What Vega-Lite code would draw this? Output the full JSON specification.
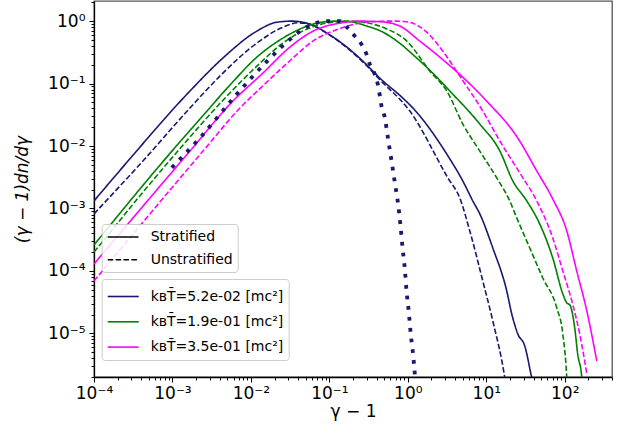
{
  "$schema": "https://vega.github.io/schema/vega-lite/v6.json",
  "width": 518,
  "height": 376,
  "autosize": "none",
  "padding": {"left": 94, "top": 1, "right": 16, "bottom": 56},
  "background": "white",
  "config": {
    "font": "DejaVu Sans",
    "view": {"stroke": "#555555", "strokeWidth": 1.3},
    "axis": {"labelFont": "DejaVu Sans", "titleFont": "DejaVu Sans", "labelColor": "black", "titleColor": "black", "domainColor": "black", "tickColor": "black", "grid": false, "titleFontWeight": "normal", "domainWidth": 1.3, "tickWidth": 1}
  },
  "data": {"values": [
    {"t": "5.2e-02", "k": "Stratified", "x": 1e-4, "y": 1.32e-3},
    {"t": "5.2e-02", "k": "Stratified", "x": 2.63e-4, "y": 5.5e-3},
    {"t": "5.2e-02", "k": "Stratified", "x": 1.67e-3, "y": 0.0759},
    {"t": "5.2e-02", "k": "Stratified", "x": 4.39e-3, "y": 0.256},
    {"t": "5.2e-02", "k": "Stratified", "x": 0.0119, "y": 0.692},
    {"t": "5.2e-02", "k": "Stratified", "x": 0.0214, "y": 0.96},
    {"t": "5.2e-02", "k": "Stratified", "x": 0.0333, "y": 1.0},
    {"t": "5.2e-02", "k": "Stratified", "x": 0.0565, "y": 0.895},
    {"t": "5.2e-02", "k": "Stratified", "x": 0.0929, "y": 0.643},
    {"t": "5.2e-02", "k": "Stratified", "x": 0.149, "y": 0.429},
    {"t": "5.2e-02", "k": "Stratified", "x": 0.267, "y": 0.229},
    {"t": "5.2e-02", "k": "Stratified", "x": 0.44, "y": 0.122},
    {"t": "5.2e-02", "k": "Stratified", "x": 0.863, "y": 0.0586},
    {"t": "5.2e-02", "k": "Stratified", "x": 1.16, "y": 0.0406},
    {"t": "5.2e-02", "k": "Stratified", "x": 3.14, "y": 7.4e-3},
    {"t": "5.2e-02", "k": "Stratified", "x": 5.02, "y": 2.75e-3},
    {"t": "5.2e-02", "k": "Stratified", "x": 6.73, "y": 1.32e-3},
    {"t": "5.2e-02", "k": "Stratified", "x": 8.26, "y": 8.2e-4},
    {"t": "5.2e-02", "k": "Stratified", "x": 12.1, "y": 2.33e-4},
    {"t": "5.2e-02", "k": "Stratified", "x": 18.2, "y": 4.8e-5},
    {"t": "5.2e-02", "k": "Stratified", "x": 21.1, "y": 2.05e-5},
    {"t": "5.2e-02", "k": "Stratified", "x": 25.2, "y": 9.8e-6},
    {"t": "5.2e-02", "k": "Stratified", "x": 30.9, "y": 6.3e-6},
    {"t": "5.2e-02", "k": "Stratified", "x": 38.0, "y": 1.94e-6},
    {"t": "5.2e-02", "k": "Stratified", "x": 41.7, "y": 1.2e-6},

    {"t": "5.2e-02", "k": "Unstratified", "x": 1e-4, "y": 8.2e-4},
    {"t": "5.2e-02", "k": "Unstratified", "x": 4.2e-4, "y": 5.75e-3},
    {"t": "5.2e-02", "k": "Unstratified", "x": 1.67e-3, "y": 0.0406},
    {"t": "5.2e-02", "k": "Unstratified", "x": 4.39e-3, "y": 0.147},
    {"t": "5.2e-02", "k": "Unstratified", "x": 0.0119, "y": 0.445},
    {"t": "5.2e-02", "k": "Unstratified", "x": 0.0256, "y": 0.8},
    {"t": "5.2e-02", "k": "Unstratified", "x": 0.04, "y": 0.94},
    {"t": "5.2e-02", "k": "Unstratified", "x": 0.055, "y": 0.9},
    {"t": "5.2e-02", "k": "Unstratified", "x": 0.0929, "y": 0.64},
    {"t": "5.2e-02", "k": "Unstratified", "x": 0.149, "y": 0.42},
    {"t": "5.2e-02", "k": "Unstratified", "x": 0.267, "y": 0.222},
    {"t": "5.2e-02", "k": "Unstratified", "x": 0.44, "y": 0.115},
    {"t": "5.2e-02", "k": "Unstratified", "x": 1.06, "y": 0.0363},
    {"t": "5.2e-02", "k": "Unstratified", "x": 3.24, "y": 3.08e-3},
    {"t": "5.2e-02", "k": "Unstratified", "x": 4.59, "y": 1.47e-3},
    {"t": "5.2e-02", "k": "Unstratified", "x": 6.16, "y": 4.37e-4},
    {"t": "5.2e-02", "k": "Unstratified", "x": 9.02, "y": 6.9e-5},
    {"t": "5.2e-02", "k": "Unstratified", "x": 12.1, "y": 1.58e-5},
    {"t": "5.2e-02", "k": "Unstratified", "x": 17.2, "y": 1.94e-6},
    {"t": "5.2e-02", "k": "Unstratified", "x": 18.2, "y": 1.2e-6},

    {"t": "5.2e-02", "k": "MJ", "x": 9.8e-4, "y": 4.5e-3},
    {"t": "5.2e-02", "k": "MJ", "x": 2.36e-3, "y": 0.0145},
    {"t": "5.2e-02", "k": "MJ", "x": 6.58e-3, "y": 0.0672},
    {"t": "5.2e-02", "k": "MJ", "x": 0.0158, "y": 0.223},
    {"t": "5.2e-02", "k": "MJ", "x": 0.0314, "y": 0.51},
    {"t": "5.2e-02", "k": "MJ", "x": 0.0537, "y": 0.832},
    {"t": "5.2e-02", "k": "MJ", "x": 0.0966, "y": 1.0},
    {"t": "5.2e-02", "k": "MJ", "x": 0.136, "y": 1.0},
    {"t": "5.2e-02", "k": "MJ", "x": 0.167, "y": 0.8},
    {"t": "5.2e-02", "k": "MJ", "x": 0.211, "y": 0.575},
    {"t": "5.2e-02", "k": "MJ", "x": 0.257, "y": 0.424},
    {"t": "5.2e-02", "k": "MJ", "x": 0.298, "y": 0.293},
    {"t": "5.2e-02", "k": "MJ", "x": 0.328, "y": 0.203},
    {"t": "5.2e-02", "k": "MJ", "x": 0.38, "y": 0.14},
    {"t": "5.2e-02", "k": "MJ", "x": 0.419, "y": 0.0912},
    {"t": "5.2e-02", "k": "MJ", "x": 0.462, "y": 0.0437},
    {"t": "5.2e-02", "k": "MJ", "x": 0.509, "y": 0.0284},
    {"t": "5.2e-02", "k": "MJ", "x": 0.561, "y": 0.0128},
    {"t": "5.2e-02", "k": "MJ", "x": 0.62, "y": 5.75e-3},
    {"t": "5.2e-02", "k": "MJ", "x": 0.683, "y": 2.59e-3},
    {"t": "5.2e-02", "k": "MJ", "x": 0.752, "y": 1.17e-3},
    {"t": "5.2e-02", "k": "MJ", "x": 0.807, "y": 5.25e-4},
    {"t": "5.2e-02", "k": "MJ", "x": 0.855, "y": 2.36e-4},
    {"t": "5.2e-02", "k": "MJ", "x": 0.916, "y": 1.06e-4},
    {"t": "5.2e-02", "k": "MJ", "x": 0.962, "y": 4.8e-5},
    {"t": "5.2e-02", "k": "MJ", "x": 1.03, "y": 2.15e-5},
    {"t": "5.2e-02", "k": "MJ", "x": 1.09, "y": 9.7e-6},
    {"t": "5.2e-02", "k": "MJ", "x": 1.17, "y": 4.4e-6},
    {"t": "5.2e-02", "k": "MJ", "x": 1.23, "y": 2.1e-6},
    {"t": "5.2e-02", "k": "MJ", "x": 1.26, "y": 1.2e-6},

    {"t": "1.9e-01", "k": "Stratified", "x": 1e-4, "y": 2.6e-4},
    {"t": "1.9e-01", "k": "Stratified", "x": 1.01e-3, "y": 8.6e-3},
    {"t": "1.9e-01", "k": "Stratified", "x": 2.24e-3, "y": 0.027},
    {"t": "1.9e-01", "k": "Stratified", "x": 5.4e-3, "y": 0.0946},
    {"t": "1.9e-01", "k": "Stratified", "x": 0.0119, "y": 0.265},
    {"t": "1.9e-01", "k": "Stratified", "x": 0.0256, "y": 0.535},
    {"t": "1.9e-01", "k": "Stratified", "x": 0.042, "y": 0.745},
    {"t": "1.9e-01", "k": "Stratified", "x": 0.0694, "y": 0.93},
    {"t": "1.9e-01", "k": "Stratified", "x": 0.1175, "y": 1.0},
    {"t": "1.9e-01", "k": "Stratified", "x": 0.182, "y": 0.98},
    {"t": "1.9e-01", "k": "Stratified", "x": 0.301, "y": 0.832},
    {"t": "1.9e-01", "k": "Stratified", "x": 0.481, "y": 0.667},
    {"t": "1.9e-01", "k": "Stratified", "x": 0.725, "y": 0.479},
    {"t": "1.9e-01", "k": "Stratified", "x": 1.3, "y": 0.256},
    {"t": "1.9e-01", "k": "Stratified", "x": 2.08, "y": 0.147},
    {"t": "1.9e-01", "k": "Stratified", "x": 3.43, "y": 0.0759},
    {"t": "1.9e-01", "k": "Stratified", "x": 8.26, "y": 0.0225},
    {"t": "1.9e-01", "k": "Stratified", "x": 14.9, "y": 8.3e-3},
    {"t": "1.9e-01", "k": "Stratified", "x": 21.8, "y": 2.75e-3},
    {"t": "1.9e-01", "k": "Stratified", "x": 32.8, "y": 1.32e-3},
    {"t": "1.9e-01", "k": "Stratified", "x": 48.1, "y": 5.6e-4},
    {"t": "1.9e-01", "k": "Stratified", "x": 70.3, "y": 1.61e-4},
    {"t": "1.9e-01", "k": "Stratified", "x": 94.4, "y": 4.3e-5},
    {"t": "1.9e-01", "k": "Stratified", "x": 106, "y": 3.08e-5},
    {"t": "1.9e-01", "k": "Stratified", "x": 116, "y": 2.86e-5},
    {"t": "1.9e-01", "k": "Stratified", "x": 134, "y": 1.22e-5},
    {"t": "1.9e-01", "k": "Stratified", "x": 146, "y": 4.7e-6},
    {"t": "1.9e-01", "k": "Stratified", "x": 165, "y": 1.94e-6},
    {"t": "1.9e-01", "k": "Stratified", "x": 170, "y": 1.2e-6},

    {"t": "1.9e-01", "k": "Unstratified", "x": 1e-4, "y": 2.0e-4},
    {"t": "1.9e-01", "k": "Unstratified", "x": 1.17e-3, "y": 8.3e-3},
    {"t": "1.9e-01", "k": "Unstratified", "x": 4.94e-3, "y": 0.063},
    {"t": "1.9e-01", "k": "Unstratified", "x": 0.0119, "y": 0.19},
    {"t": "1.9e-01", "k": "Unstratified", "x": 0.0256, "y": 0.445},
    {"t": "1.9e-01", "k": "Unstratified", "x": 0.0385, "y": 0.62},
    {"t": "1.9e-01", "k": "Unstratified", "x": 0.1, "y": 0.946},
    {"t": "1.9e-01", "k": "Unstratified", "x": 0.182, "y": 1.0},
    {"t": "1.9e-01", "k": "Unstratified", "x": 0.301, "y": 0.94},
    {"t": "1.9e-01", "k": "Unstratified", "x": 0.509, "y": 0.773},
    {"t": "1.9e-01", "k": "Unstratified", "x": 0.971, "y": 0.479},
    {"t": "1.9e-01", "k": "Unstratified", "x": 1.91, "y": 0.158},
    {"t": "1.9e-01", "k": "Unstratified", "x": 3.14, "y": 0.0759},
    {"t": "1.9e-01", "k": "Unstratified", "x": 5.02, "y": 0.0225},
    {"t": "1.9e-01", "k": "Unstratified", "x": 8.26, "y": 8.3e-3},
    {"t": "1.9e-01", "k": "Unstratified", "x": 13.6, "y": 3.08e-3},
    {"t": "1.9e-01", "k": "Unstratified", "x": 19.9, "y": 1.32e-3},
    {"t": "1.9e-01", "k": "Unstratified", "x": 24.5, "y": 7.0e-4},
    {"t": "1.9e-01", "k": "Unstratified", "x": 35.8, "y": 2.33e-4},
    {"t": "1.9e-01", "k": "Unstratified", "x": 52.5, "y": 7.7e-5},
    {"t": "1.9e-01", "k": "Unstratified", "x": 79.1, "y": 2.56e-5},
    {"t": "1.9e-01", "k": "Unstratified", "x": 94.4, "y": 9.8e-6},
    {"t": "1.9e-01", "k": "Unstratified", "x": 106, "y": 1.94e-6},
    {"t": "1.9e-01", "k": "Unstratified", "x": 108, "y": 1.2e-6},

    {"t": "3.5e-01", "k": "Stratified", "x": 1e-4, "y": 1.29e-4},
    {"t": "3.5e-01", "k": "Stratified", "x": 1.67e-3, "y": 8.3e-3},
    {"t": "3.5e-01", "k": "Stratified", "x": 5.9e-3, "y": 0.0525},
    {"t": "3.5e-01", "k": "Stratified", "x": 0.0142, "y": 0.147},
    {"t": "3.5e-01", "k": "Stratified", "x": 0.0314, "y": 0.384},
    {"t": "3.5e-01", "k": "Stratified", "x": 0.0617, "y": 0.69},
    {"t": "3.5e-01", "k": "Stratified", "x": 0.136, "y": 0.929},
    {"t": "3.5e-01", "k": "Stratified", "x": 0.245, "y": 1.0},
    {"t": "3.5e-01", "k": "Stratified", "x": 0.44, "y": 0.98},
    {"t": "3.5e-01", "k": "Stratified", "x": 0.791, "y": 0.832},
    {"t": "3.5e-01", "k": "Stratified", "x": 1.42, "y": 0.479},
    {"t": "3.5e-01", "k": "Stratified", "x": 3.14, "y": 0.213},
    {"t": "3.5e-01", "k": "Stratified", "x": 5.65, "y": 0.11},
    {"t": "3.5e-01", "k": "Stratified", "x": 10.1, "y": 0.0525},
    {"t": "3.5e-01", "k": "Stratified", "x": 25.2, "y": 0.0134},
    {"t": "3.5e-01", "k": "Stratified", "x": 44.0, "y": 3.98e-3},
    {"t": "3.5e-01", "k": "Stratified", "x": 70.3, "y": 1.42e-3},
    {"t": "3.5e-01", "k": "Stratified", "x": 106, "y": 4.37e-4},
    {"t": "3.5e-01", "k": "Stratified", "x": 142, "y": 1.0e-4},
    {"t": "3.5e-01", "k": "Stratified", "x": 191, "y": 2.29e-5},
    {"t": "3.5e-01", "k": "Stratified", "x": 256, "y": 3.6e-6},

    {"t": "3.5e-01", "k": "Unstratified", "x": 1e-4, "y": 6.9e-5},
    {"t": "3.5e-01", "k": "Unstratified", "x": 2.45e-3, "y": 8.3e-3},
    {"t": "3.5e-01", "k": "Unstratified", "x": 7.24e-3, "y": 0.0406},
    {"t": "3.5e-01", "k": "Unstratified", "x": 0.0142, "y": 0.092},
    {"t": "3.5e-01", "k": "Unstratified", "x": 0.0314, "y": 0.232},
    {"t": "3.5e-01", "k": "Unstratified", "x": 0.0617, "y": 0.479},
    {"t": "3.5e-01", "k": "Unstratified", "x": 0.136, "y": 0.76},
    {"t": "3.5e-01", "k": "Unstratified", "x": 0.267, "y": 0.946},
    {"t": "3.5e-01", "k": "Unstratified", "x": 0.42, "y": 0.99},
    {"t": "3.5e-01", "k": "Unstratified", "x": 0.65, "y": 1.0},
    {"t": "3.5e-01", "k": "Unstratified", "x": 0.9, "y": 0.985},
    {"t": "3.5e-01", "k": "Unstratified", "x": 1.12, "y": 0.94},
    {"t": "3.5e-01", "k": "Unstratified", "x": 1.35, "y": 0.84},
    {"t": "3.5e-01", "k": "Unstratified", "x": 1.75, "y": 0.66},
    {"t": "3.5e-01", "k": "Unstratified", "x": 2.79, "y": 0.331},
    {"t": "3.5e-01", "k": "Unstratified", "x": 4.59, "y": 0.132},
    {"t": "3.5e-01", "k": "Unstratified", "x": 9.02, "y": 0.0363},
    {"t": "3.5e-01", "k": "Unstratified", "x": 14.9, "y": 0.012},
    {"t": "3.5e-01", "k": "Unstratified", "x": 26.7, "y": 3.7e-3},
    {"t": "3.5e-01", "k": "Unstratified", "x": 44.0, "y": 1.32e-3},
    {"t": "3.5e-01", "k": "Unstratified", "x": 70.3, "y": 3.37e-4},
    {"t": "3.5e-01", "k": "Unstratified", "x": 94.4, "y": 1.0e-4},
    {"t": "3.5e-01", "k": "Unstratified", "x": 126, "y": 2.96e-5},
    {"t": "3.5e-01", "k": "Unstratified", "x": 155, "y": 9.8e-6},
    {"t": "3.5e-01", "k": "Unstratified", "x": 191, "y": 2.25e-6}
  ]},
  "layer": [
    {
      "transform": [{"filter": "datum.k != 'MJ'"}],
      "mark": {"type": "line", "clip": true, "strokeWidth": 1.6, "interpolate": "monotone"},
      "encoding": {
        "x": {"field": "x", "type": "quantitative", "scale": {"type": "log", "domain": [1e-4, 400], "nice": false},
          "axis": {"values": [1e-4, 1e-3, 1e-2, 1e-1, 1, 10, 100], "labelExpr": "'10' + (round(log(datum.value)/LN10) < 0 ? '⁻' : '') + ['⁰','¹','²','³','⁴','⁵','⁶'][abs(round(log(datum.value)/LN10))]", "title": "γ − 1", "titleFontSize": 17, "labelFontSize": 17, "tickSize": 5, "labelPadding": 3, "titlePadding": 2, "labelFlush": false, "labelOverlap": false}},
        "y": {"field": "y", "type": "quantitative", "scale": {"type": "log", "domain": [2e-6, 2.1], "nice": false},
          "axis": {"values": [1e-5, 1e-4, 1e-3, 1e-2, 1e-1, 1], "labelExpr": "'10' + (round(log(datum.value)/LN10) < 0 ? '⁻' : '') + ['⁰','¹','²','³','⁴','⁵','⁶'][abs(round(log(datum.value)/LN10))]", "title": "(γ − 1)dn/dγ", "titleFontSize": 17, "titleFontStyle": "italic", "labelFontSize": 17, "tickSize": 5, "labelPadding": 4, "titlePadding": 16, "labelOverlap": false}},
        "color": {"field": "t", "type": "nominal", "scale": {"domain": ["5.2e-02", "1.9e-01", "3.5e-01"], "range": ["#191970", "#008000", "#ff00ff"]},
          "legend": {"title": null, "orient": "none", "legendX": 7.7, "legendY": 278, "symbolType": "M-1,0H1.7", "symbolSize": 529, "symbolStrokeWidth": 1.6, "labelExpr": "'kʙT̄=' + datum.label + ' [mc²]'", "labelFontSize": 14, "labelFont": "DejaVu Sans", "labelColor": "black", "labelOffset": 19, "padding": 5, "rowPadding": 5.3, "fillColor": "rgba(255,255,255,0.85)", "strokeColor": "#cccccc", "cornerRadius": 3}},
        "strokeDash": {"field": "k", "type": "nominal", "scale": {"domain": ["Stratified", "Unstratified"], "range": [[1, 0], [5.5, 2.4]]},
          "legend": {"title": null, "orient": "none", "legendX": 7.7, "legendY": 223, "symbolType": "M-1,0H3.4", "symbolSize": 196, "symbolStrokeWidth": 1.6, "symbolStrokeColor": "black", "labelFontSize": 14, "labelFont": "DejaVu Sans", "labelColor": "black", "labelOffset": 28, "padding": 5, "rowPadding": 7.7, "fillColor": "rgba(255,255,255,0.85)", "strokeColor": "#cccccc", "cornerRadius": 3,
            "encode": {"symbols": {"update": {"stroke": {"value": "black"}}}}}}
      }
    },
    {
      "transform": [{"filter": "datum.k == 'MJ'"}],
      "mark": {"type": "line", "clip": true, "strokeWidth": 3.8, "strokeDash": [3.8, 7], "color": "#191970", "interpolate": "monotone"},
      "encoding": {
        "x": {"field": "x", "type": "quantitative", "scale": {"type": "log", "domain": [1e-4, 400], "nice": false},
          "axis": {"orient": "bottom", "values": [2e-4,3e-4,4e-4,5e-4,6e-4,7e-4,8e-4,9e-4,2e-3,3e-3,4e-3,5e-3,6e-3,7e-3,8e-3,9e-3,2e-2,3e-2,4e-2,5e-2,6e-2,7e-2,8e-2,9e-2,0.2,0.3,0.4,0.5,0.6,0.7,0.8,0.9,2,3,4,5,6,7,8,9,20,30,40,50,60,70,80,90,200,300,400], "labels": false, "title": null, "tickSize": 3, "domain": false}},
        "y": {"field": "y", "type": "quantitative", "scale": {"type": "log", "domain": [2e-6, 2.1], "nice": false},
          "axis": {"orient": "left", "values": [2e-6,3e-6,4e-6,5e-6,6e-6,7e-6,8e-6,9e-6,2e-5,3e-5,4e-5,5e-5,6e-5,7e-5,8e-5,9e-5,2e-4,3e-4,4e-4,5e-4,6e-4,7e-4,8e-4,9e-4,2e-3,3e-3,4e-3,5e-3,6e-3,7e-3,8e-3,9e-3,2e-2,3e-2,4e-2,5e-2,6e-2,7e-2,8e-2,9e-2,0.2,0.3,0.4,0.5,0.6,0.7,0.8,0.9,2], "labels": false, "title": null, "tickSize": 3, "domain": false}}
      }
    }
  ],
  "resolve": {"axis": {"x": "independent", "y": "independent"}}
}
